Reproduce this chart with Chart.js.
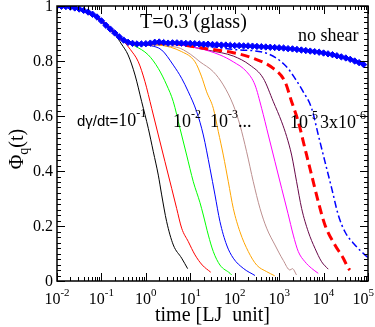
<!DOCTYPE html>
<html>
<head>
<meta charset="utf-8">
<script src="https://cdn.jsdelivr.net/npm/chart.js@4"></script>
<style>
  body { margin: 0; background: #fff; }
  canvas { display: block; }
</style>
</head>
<body>
<canvas id="phiChart" width="375" height="327"></canvas>
<script>
// time is stored as log10(t), Phi_q(t)
const noShearLogT = [
  -2.0, -1.9, -1.8, -1.7, -1.6, -1.5, -1.4, -1.3, -1.2, -1.1,
  -1.0, -0.9, -0.8, -0.7, -0.6, -0.5, -0.4, -0.3, -0.2, -0.1,
  0.0, 0.1, 0.2, 0.3, 0.4, 0.5, 0.6, 0.7, 0.8, 0.9,
  1.0, 1.1, 1.2, 1.3, 1.4, 1.5, 1.6, 1.7, 1.8, 1.9,
  2.0, 2.1, 2.2, 2.3, 2.4, 2.5, 2.6, 2.7, 2.8, 2.9,
  3.0, 3.1, 3.2, 3.3, 3.4, 3.5, 3.6, 3.7, 3.8, 3.9,
  4.0, 4.1, 4.2, 4.3, 4.4, 4.5, 4.6, 4.7, 4.8, 4.9
];
const noShearPhi = [
  1.000, 0.999, 0.998, 0.996, 0.993, 0.989, 0.984, 0.978, 0.970, 0.960,
  0.946, 0.930, 0.916, 0.902, 0.888, 0.876, 0.868, 0.864, 0.862, 0.862,
  0.863, 0.865, 0.868, 0.869, 0.867, 0.865, 0.866, 0.866, 0.865, 0.864,
  0.864, 0.863, 0.862, 0.861, 0.861, 0.860, 0.859, 0.858, 0.858, 0.857,
  0.856, 0.856, 0.855, 0.855, 0.854, 0.853, 0.852, 0.851, 0.850, 0.849,
  0.848, 0.847, 0.845, 0.844, 0.842, 0.840, 0.838, 0.836, 0.834, 0.832,
  0.829, 0.826, 0.823, 0.819, 0.815, 0.811, 0.806, 0.800, 0.794, 0.787
];

// early part shared by all sheared runs (hidden under the diamonds)
const plateauStart = [[-2, 1.0], [-1.5, 0.989], [-1, 0.946], [-0.7, 0.902]];

const rate1e1 = [[-2, 1.0], [-1.5, 0.989], [-1, 0.946], [-0.7, 0.898], [-0.55, 0.862], [-0.4, 0.822], [-0.244, 0.749],
  [-0.094, 0.652], [0.055, 0.555], [0.168, 0.47], [0.28, 0.385], [0.356, 0.313], [0.468, 0.216],
  [0.618, 0.131], [0.806, 0.083], [0.94, 0.045]];
const rate3e2 = [...plateauStart, [-0.5, 0.872], [-0.35, 0.842], [-0.17, 0.797], [-0.02, 0.725], [0.131, 0.628],
  [0.28, 0.531], [0.43, 0.434], [0.581, 0.337], [0.693, 0.264], [0.806, 0.192], [0.956, 0.143],
  [1.106, 0.095], [1.27, 0.058], [1.46, 0.032]];
const rate1e2 = [...plateauStart, [-0.5, 0.874], [-0.25, 0.855], [0.055, 0.822], [0.28, 0.773], [0.468, 0.713],
  [0.618, 0.652], [0.768, 0.555], [0.918, 0.458], [1.068, 0.361], [1.218, 0.285], [1.293, 0.24],
  [1.406, 0.167], [1.518, 0.107], [1.668, 0.058], [1.894, 0.028], [1.93, 0.022]];
const rate3e3 = [...plateauStart, [-0.5, 0.874], [-0.2, 0.862], [0.1, 0.856], [0.356, 0.84], [0.618, 0.785],
  [0.806, 0.737], [0.956, 0.688], [1.143, 0.616], [1.293, 0.531], [1.443, 0.41], [1.556, 0.313],
  [1.668, 0.216], [1.818, 0.131], [1.968, 0.083], [2.193, 0.046], [2.456, 0.02]];
const rate1e3 = [...plateauStart, [-0.5, 0.874], [-0.2, 0.862], [0.3, 0.858], [0.806, 0.834], [1.106, 0.797],
  [1.25, 0.745], [1.368, 0.688], [1.518, 0.628], [1.631, 0.543], [1.743, 0.458], [1.856, 0.361],
  [1.968, 0.264], [2.118, 0.179], [2.306, 0.107], [2.494, 0.058], [2.719, 0.034], [2.9, 0.019]];
const rate3e4 = [...plateauStart, [-0.5, 0.874], [-0.2, 0.862], [0.7, 0.85], [1.0, 0.825], [1.218, 0.797],
  [1.518, 0.761], [1.743, 0.713], [1.968, 0.64], [2.118, 0.567], [2.268, 0.47], [2.418, 0.361],
  [2.569, 0.264], [2.719, 0.192], [2.906, 0.131], [3.093, 0.075], [3.243, 0.04], [3.3, 0.045], [3.39, 0.022]];
const rate1e4 = [...plateauStart, [-0.5, 0.874], [-0.2, 0.862], [0.5, 0.862], [1.218, 0.845], [1.668, 0.822],
  [1.968, 0.797], [2.268, 0.761], [2.456, 0.713], [2.606, 0.628], [2.756, 0.531], [2.906, 0.434],
  [3.056, 0.337], [3.2, 0.245], [3.318, 0.167], [3.431, 0.107], [3.581, 0.07], [3.731, 0.046], [3.88, 0.028]];
const rate3e5 = [...plateauStart, [-0.5, 0.874], [-0.2, 0.862], [0.5, 0.864], [1.0, 0.852], [1.443, 0.838],
  [1.968, 0.818], [2.343, 0.785], [2.643, 0.737], [2.869, 0.652], [3.056, 0.579], [3.17, 0.525],
  [3.281, 0.458], [3.393, 0.361], [3.506, 0.264], [3.656, 0.179], [3.806, 0.119], [3.956, 0.07], [4.106, 0.043]];
const rate1e5 = [...plateauStart, [-0.5, 0.874], [-0.2, 0.862], [0.5, 0.864], [1.218, 0.848], [1.968, 0.83],
  [2.418, 0.81], [2.869, 0.773], [3.131, 0.725], [3.281, 0.652], [3.431, 0.579], [3.581, 0.482],
  [3.731, 0.385], [3.881, 0.288], [4.031, 0.204], [4.256, 0.131], [4.444, 0.083], [4.556, 0.046], [4.594, 0.04]];
const rate3e6 = [...plateauStart, [-0.5, 0.874], [-0.2, 0.862], [0.5, 0.864], [1.5, 0.852], [1.968, 0.842],
  [2.719, 0.828], [3.15, 0.782], [3.356, 0.737], [3.543, 0.688], [3.731, 0.628], [3.881, 0.531],
  [4.031, 0.434], [4.183, 0.337], [4.331, 0.24], [4.481, 0.179], [4.706, 0.131], [4.931, 0.095], [5.0, 0.085]];

const xTickExps = [-2, -1, 0, 1, 2, 3, 4, 5];
const yTickLabels = ['0', '0.2', '0.4', '0.6', '0.8', '1'];

const toPoints = arr => arr.map(p => ({ x: 10 ** p[0], y: p[1] }));

const serif = '"Liberation Serif", "Times New Roman", serif';
const sans = '"Liberation Sans", Arial, sans-serif';

// text with a raised exponent, returns end x
function drawPow(ctx, x, y, base, exp, size, align) {
  ctx.font = size + 'px ' + serif;
  const wb = ctx.measureText(base).width;
  ctx.font = Math.round(size * 0.68) + 'px ' + serif;
  const we = ctx.measureText(exp).width;
  let x0 = x;
  if (align === 'center') x0 = Math.min(x - (wb + we) / 2, 374 - wb - we);
  ctx.textAlign = 'left';
  ctx.textBaseline = 'alphabetic';
  ctx.font = size + 'px ' + serif;
  ctx.fillText(base, x0, y);
  ctx.font = Math.round(size * 0.68) + 'px ' + serif;
  ctx.fillText(exp, x0 + wb, y - size * 0.48);
  return x0 + wb + we;
}

const frameAndText = {
  id: 'frameAndText',
  afterDatasetsDraw(chart) {
    const { ctx, chartArea: { left, right, top, bottom }, scales: { x, y } } = chart;
    ctx.save();
    ctx.strokeStyle = '#000';
    ctx.fillStyle = '#000';
    ctx.lineWidth = 1;
    ctx.beginPath();
    // log ticks on bottom and top
    xTickExps.forEach(d => {
      for (let m = 1; m < 10; m++) {
        if (d === 5 && m > 1) break;
        const px = Math.round(x.getPixelForValue(m * 10 ** d)) + 0.5;
        const len = m === 1 ? 8 : 4;
        ctx.moveTo(px, bottom); ctx.lineTo(px, bottom - len);
        ctx.moveTo(px, top); ctx.lineTo(px, top + len);
      }
    });
    // linear ticks on left and right
    for (let i = 0; i <= 50; i++) {
      const py = Math.round(y.getPixelForValue(i * 0.02)) + 0.5;
      const len = i % 10 === 0 ? 8 : 4;
      ctx.moveTo(left, py); ctx.lineTo(left + len, py);
      ctx.moveTo(right, py); ctx.lineTo(right - len, py);
    }
    ctx.stroke();
    ctx.lineWidth = 1.5;
    ctx.strokeRect(left, top, right - left, bottom - top);

    // tick labels
    ctx.font = '16px ' + serif;
    ctx.textAlign = 'right';
    ctx.textBaseline = 'middle';
    yTickLabels.forEach((t, i) => {
      ctx.fillText(t, left - 4, y.getPixelForValue(i * 0.2) + 1);
    });
    xTickExps.forEach(d => {
      drawPow(ctx, x.getPixelForValue(10 ** d), bottom + 23, '10', String(d), 16, 'center');
    });

    // axis titles
    ctx.font = '20px ' + serif;
    ctx.textAlign = 'center';
    ctx.textBaseline = 'alphabetic';
    ctx.fillText('time [LJ  unit]', (left + right) / 2, 321);

    ctx.save();
    ctx.translate(23, 149);
    ctx.rotate(-Math.PI / 2);
    ctx.textAlign = 'left';
    ctx.font = '20px ' + serif;
    const wPhi = ctx.measureText('Φ').width;
    ctx.font = '14px ' + serif;
    const wq = ctx.measureText('q').width;
    ctx.font = '20px ' + serif;
    const wt = ctx.measureText('(t)').width;
    let sx = -(wPhi + wq + wt) / 2;
    ctx.fillText('Φ', sx, 0);
    ctx.font = '14px ' + serif;
    ctx.fillText('q', sx + wPhi, 5);
    ctx.font = '20px ' + serif;
    ctx.fillText('(t)', sx + wPhi + wq, 0);
    ctx.restore();

    // annotations
    ctx.textAlign = 'left';
    ctx.font = '20px ' + serif;
    ctx.fillText('T=0.3 (glass)', 140, 28);
    ctx.font = '18px ' + serif;
    ctx.fillText('no shear', 298, 41);

    ctx.font = '15px ' + sans;
    ctx.fillText('dγ/dt=', 77, 126);
    const wl = ctx.measureText('dγ/dt=').width;
    drawPow(ctx, 77 + wl, 126, '10', '-1', 18, 'left');
    drawPow(ctx, 173, 127, '10', '-2', 18, 'left');
    const e3 = drawPow(ctx, 210, 127, '10', '-3', 18, 'left');
    ctx.font = '18px ' + serif;
    ctx.fillText('...', e3, 127);
    drawPow(ctx, 290, 128, '10', '-5', 18, 'left');
    drawPow(ctx, 320, 128, '3x10', '-6', 18, 'left');
    ctx.restore();
  }
};

const thin = (data, color) => ({
  data: toPoints(data),
  borderColor: color,
  borderWidth: 1,
  pointRadius: 0,
  cubicInterpolationMode: 'monotone'
});

new Chart(document.getElementById('phiChart'), {
  type: 'line',
  data: {
    datasets: [
      {
        data: noShearLogT.map((v, i) => ({ x: 10 ** v, y: noShearPhi[i] })),
        borderColor: '#0000ff',
        borderWidth: 2,
        pointStyle: 'rectRot',
        pointRadius: 3.2,
        pointBackgroundColor: '#0000ff',
        pointBorderColor: '#0000ff',
        pointBorderWidth: 1,
        tension: 0
      },
      {
        data: toPoints(rate1e5),
        borderColor: '#ff0000',
        borderWidth: 3,
        borderDash: [9, 5],
        pointRadius: 0,
        cubicInterpolationMode: 'monotone'
      },
      {
        data: toPoints(rate3e6),
        borderColor: '#0000ff',
        borderWidth: 1.5,
        borderDash: [7, 3, 2, 3],
        pointRadius: 0,
        cubicInterpolationMode: 'monotone'
      },
      thin(rate1e1, '#000000'),
      thin(rate3e2, '#ff0000'),
      thin(rate1e2, '#00ff00'),
      thin(rate3e3, '#0000ff'),
      thin(rate1e3, '#ffa500'),
      thin(rate3e4, '#bc8f8f'),
      thin(rate1e4, '#ff00ff'),
      thin(rate3e5, '#670748')
    ]
  },
  options: {
    responsive: false,
    animation: false,
    devicePixelRatio: 1,
    layout: {
      padding: { left: 57, right: 7, top: 6, bottom: 46 }
    },
    scales: {
      x: { type: 'logarithmic', min: 0.01, max: 1e5, display: false },
      y: { type: 'linear', min: 0, max: 1, display: false }
    },
    plugins: {
      legend: { display: false },
      tooltip: { enabled: false }
    }
  },
  plugins: [frameAndText]
});
</script>
</body>
</html>
